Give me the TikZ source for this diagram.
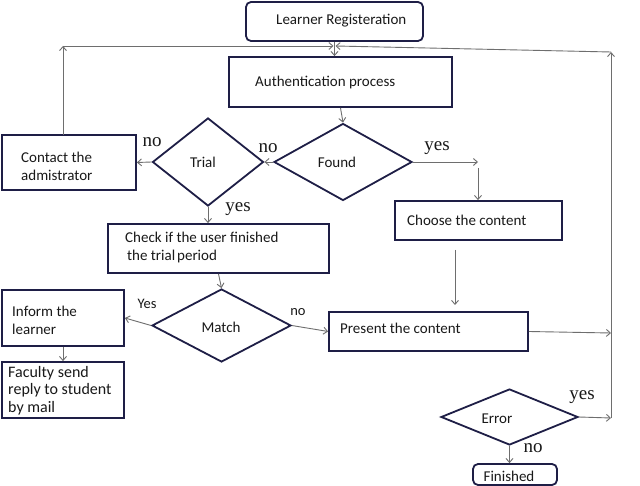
\documentclass[tikz,border=0pt]{standalone}
\usepackage{fontspec}
\setmainfont{Carlito}
\newfontfamily\serifl{Liberation Serif}
\usetikzlibrary{shapes.geometric,arrows.meta}
\definecolor{navy}{HTML}{1E1E46}
\definecolor{conn}{HTML}{6E6E6E}
\begin{document}
\begin{tikzpicture}[x=1pt,y=-1pt,
  box/.style={draw=navy,line width=1.8pt,rectangle,inner sep=0pt},
  rbox/.style={box,rounded corners=5pt},
  dia/.style={draw=navy,line width=1.8pt,diamond,inner sep=0pt},
  txt/.style={inner sep=0pt,anchor=west,text=black!90,font=\fontsize{15}{18}\selectfont,align=left},
  ctxt/.style={inner sep=0pt,text=black!90,font=\fontsize{15}{18}\selectfont},
  lbl/.style={inner sep=0pt,text=black!90,font=\serifl\fontsize{19}{19}\selectfont},
  slbl/.style={inner sep=0pt,text=black!90,font=\fontsize{14.5}{15}\selectfont},
  conn/.style={draw=conn,line width=0.9pt,-{Straight Barb[length=4pt,width=7pt]}},
  line/.style={draw=conn,line width=0.9pt}]
\useasboundingbox[fill=white] (0,0) rectangle (640,486);

% boxes
\node[rbox,minimum width=177pt,minimum height=39pt] (reg) at (334.5,21.5) {};
\node[txt] (regt) at (276,21) {Learner Registeration};
\node[box,minimum width=223pt,minimum height=50pt] (auth) at (340.5,82) {};
\node[txt] (autht) at (255,83) {Authentication process};
\node[dia,minimum width=138pt,minimum height=77pt] (found) at (343,162) {};
\node[ctxt] (foundt) at (337,162) {Found};
\node[dia,minimum width=111pt,minimum height=88pt] (trial) at (208,162) {};
\node[ctxt] (trialt) at (203,162) {Trial};
\node[box,minimum width=134pt,minimum height=55pt] (contact) at (69,162.5) {};
\node[txt] (contactt) at (21,166) {Contact the\\admistrator};
\node[box,minimum width=167pt,minimum height=39pt] (choose) at (478.5,220.5) {};
\node[txt] (chooset) at (407,220) {Choose the content};
\node[box,minimum width=221pt,minimum height=49pt] (check) at (218.5,248.5) {};
\node[txt] (checkt) at (125,247.5) {Check if the user finished\\\hspace*{2pt}the trial\hspace{-1.5pt} period};
\node[dia,minimum width=139pt,minimum height=73pt] (match) at (221.5,325.5) {};
\node[ctxt] (matcht) at (221,327) {Match};
\node[box,minimum width=122pt,minimum height=56pt] (inform) at (63,318) {};
\node[txt] (informt) at (12,320) {Inform the\\learner};
\node[box,minimum width=122pt,minimum height=56pt] (faculty) at (63,390) {};
\node[txt,font=\fontsize{16}{17.5}\selectfont] (facultyt) at (8,390.5) {Faculty send\\reply to student\\by mail};
\node[box,minimum width=199pt,minimum height=39pt] (present) at (428.5,331.5) {};
\node[txt] (presentt) at (340,328) {Present the content};
\node[dia,minimum width=137pt,minimum height=56pt] (error) at (509.5,417) {};
\node[ctxt] (errort) at (497,419) {Error};
\node[rbox,minimum width=84pt,minimum height=21pt] (fin) at (515,474.5) {};
\node[ctxt] (fint) at (509,476) {Finished};

% coordinates
\coordinate (tl) at (63,46);
\coordinate (tc) at (334.5,46);
\coordinate (tr) at (611,52);
\coordinate (cn) at (63,135);
\coordinate (fy) at (478,162);
\coordinate (fy2) at (478,168);
\coordinate (ch1) at (455,250);
\coordinate (ch2) at (455,305);
\coordinate (rp) at (611,333);
\coordinate (re) at (611,418);

% connectors
\draw[conn] (reg.south) -- (reg.south |- auth.north);
\draw[conn] (cn) -- (tl);
\draw[conn] (tl) -- ([xshift=-1pt]tc);
\draw[conn] (re) -- (tr);
\draw[conn] (tr) -- ([xshift=1pt]tc);
\draw[conn] (auth.south) -- (found.north);
\draw[conn] (found.west) -- (trial.east);
\draw[conn] (trial.west) -- (contact.east);
\draw[conn] (found.east) -- (fy);
\draw[conn] (fy2) -- (fy2 |- choose.north);
\draw[conn] (trial.south) -- (trial.south |- check.north);
\draw[conn] (check.south) -- (match.north);
\draw[conn] (match.west) -- (inform.east);
\draw[conn] (inform.south) -- (faculty.north);
\draw[conn] (match.east) -- (present.west);
\draw[conn] (ch1) -- (ch2);
\draw[conn] (present.east) -- (rp);
\draw[conn] (error.east) -- (re);
\draw[conn] (error.south) -- (error.south |- fin.north);

% labels
\node[lbl] (l1) at (268,148) {no};
\node[lbl] (l2) at (152,142) {no};
\node[lbl] (l3) at (437,148) {yes};
\node[lbl] (l4) at (238,209) {yes};
\node[slbl] (l5) at (147,304) {Yes};
\node[slbl] (l6) at (298,312) {no};
\node[lbl] (l7) at (582,397) {yes};
\node[lbl] (l8) at (533,448) {no};
\end{tikzpicture}
\end{document}
